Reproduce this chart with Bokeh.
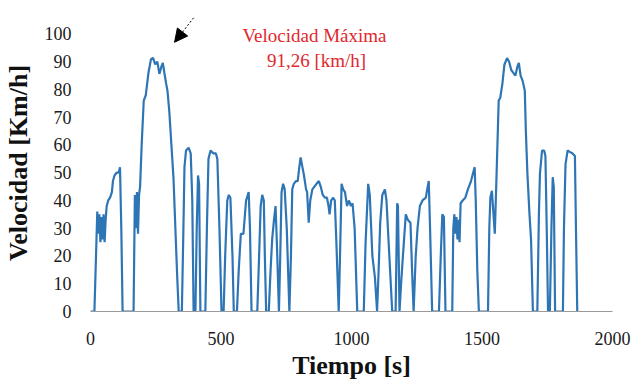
from bokeh.plotting import figure
from bokeh.models import Range1d, FixedTicker, Arrow, NormalHead, Label
from bokeh.embed import file_html
from bokeh.resources import INLINE

# Time [s]
tiempo = [0, 15, 26, 30, 34, 38, 42, 46, 50, 54, 58, 62, 68, 75, 82, 86, 92, 100, 108, 113, 118, 123,
          165, 170, 174, 178, 182, 186, 190, 196, 204, 212, 222, 232, 240, 248, 256, 264, 271, 277, 283,
          290, 295, 302, 310, 318, 326, 332, 338, 350, 356, 360, 366, 376, 384, 390, 395, 402, 407, 412,
          416, 421, 440, 446, 452, 460, 470, 480, 486, 494, 502, 510, 516, 524, 530, 536, 544, 549, 561,
          568, 576, 586, 596, 606, 611, 617, 639, 646, 652, 658, 664, 668, 673, 683, 690, 696, 703, 709,
          714, 722, 727, 732, 738, 744, 752, 762, 768, 773, 779, 787, 794, 800, 805, 812, 818, 826, 830,
          836, 842, 850, 858, 866, 875, 882, 890, 898, 906, 912, 916, 922, 930, 936, 942, 951, 956, 962,
          968, 975, 983, 990, 998, 1004, 1012, 1022, 1047, 1054, 1064, 1070, 1080, 1090, 1098, 1104, 1110,
          1118, 1128, 1134, 1145, 1156, 1169, 1175, 1178, 1184, 1190, 1197, 1208, 1216, 1226, 1232, 1238,
          1246, 1253, 1262, 1272, 1285, 1290, 1296, 1301, 1309, 1335, 1342, 1348, 1354, 1360, 1386, 1390,
          1394, 1398, 1402, 1406, 1410, 1414, 1418, 1426, 1436, 1446, 1458, 1466, 1472, 1476, 1482, 1488,
          1523, 1528, 1532, 1538, 1544, 1549, 1556, 1564, 1570, 1578, 1586, 1596, 1604, 1612, 1620, 1628,
          1635, 1641, 1648, 1656, 1664, 1668, 1674, 1682, 1688, 1695, 1712, 1718, 1722, 1730, 1738, 1743,
          1748, 1753, 1760, 1766, 1771, 1775, 1780, 1810, 1814, 1820, 1828, 1836, 1846, 1856, 1860, 1865]

# Speed [km/h]
velocidad = [0, 0, 36, 28, 35, 25, 34, 26, 35, 25, 33, 38, 40, 41, 43, 47, 49, 50, 50, 52, 30, 0,
             0, 42, 30, 43, 28, 42, 45, 60, 76, 78, 86, 91, 91.3, 89, 90, 85.6, 88, 89.6, 86,
             82, 79.5, 72, 60, 48, 28, 13, 0, 0, 30, 52, 58, 59, 57, 40, 0, 0, 30, 49,
             46, 0, 0, 30, 55, 58, 57, 57, 55, 30, 0, 0, 20, 40, 42, 41, 20, 0, 0,
             15, 28, 28, 40, 43, 30, 0, 0, 20, 38, 42, 40, 20, 0, 0, 15, 26, 33, 38,
             25, 0, 20, 43, 46, 44, 30, 0, 20, 44, 46, 47, 47, 52, 55.5, 52, 49, 44, 43,
             32, 40, 44, 45, 46, 47, 45, 42, 41, 41, 38, 35, 40, 41, 40, 25, 0, 20, 46,
             44, 43, 38, 40, 38, 39, 30, 0, 0, 25, 46, 42, 20, 12, 0, 15, 32,
             42, 44, 40, 20, 0, 0, 39, 38, 0, 10, 20, 35, 33, 32, 15, 0,
             20, 30, 38, 40, 41, 44, 47, 30, 0, 0, 20, 35, 34, 0, 0, 30,
             35, 28, 34, 26, 33, 25, 39, 40, 41, 44, 47, 50, 52, 40, 15, 0,
             0, 30, 41, 43.5, 35, 28, 50, 76, 77, 82, 89, 91.3, 90, 87, 86, 85,
             88, 89.6, 85, 83, 79.5, 65, 49.6, 35, 25.7, 0, 0, 35, 49.6, 58, 58, 56,
             30, 0, 0, 30, 48.4, 45, 0, 0, 30, 53, 58, 57.5, 57, 56, 30, 0]

x_ticks = [0, 500, 1000, 1500, 2000]
y_ticks = [0, 10, 20, 30, 40, 50, 60, 70, 80, 90, 100]

annot_line1 = "Velocidad Máxima"
annot_line2 = "91,26 [km/h]"

SERIF = "Liberation Serif"

p = figure(width=632, height=383, output_backend="svg", toolbar_location=None,
           x_range=Range1d(0, 2000), y_range=Range1d(0, 107),
           min_border_left=90, min_border_right=20, min_border_top=14, min_border_bottom=72)

p.line(tiempo, velocidad, line_color="#2E75B6", line_width=2.2)

p.xgrid.grid_line_color = None
p.ygrid.grid_line_color = None
p.outline_line_color = None

p.xaxis.ticker = FixedTicker(ticks=x_ticks)
p.yaxis.ticker = FixedTicker(ticks=y_ticks)
for ax in (p.xaxis, p.yaxis):
    ax.major_tick_line_color = None
    ax.minor_tick_line_color = None
    ax.major_label_text_font = SERIF
    ax.major_label_text_font_size = "18px"
    ax.major_label_text_color = "#1a1a1a"
    ax.axis_label_text_font = SERIF
    ax.axis_label_text_font_style = "bold"
    ax.axis_label_text_font_size = "26px"
    ax.axis_label_text_color = "#111111"

p.yaxis.axis_line_color = None
p.xaxis.axis_line_color = "#9a9a9a"
p.xaxis.axis_line_width = 1

p.xaxis.axis_label = "Tiempo [s]"
p.yaxis.axis_label = "Velocidad [Km/h]"
p.xaxis.major_label_standoff = 14
p.xaxis.axis_label_standoff = 3
p.yaxis.major_label_standoff = 13
p.yaxis.axis_label_standoff = 9

p.add_layout(Label(x=858, y=99.4, text=annot_line1, text_align="center", text_baseline="middle",
                   text_font=SERIF, text_font_size="19px", text_color="#e0282e"))
p.add_layout(Label(x=866, y=90.4, text=annot_line2, text_align="center", text_baseline="middle",
                   text_font=SERIF, text_font_size="19px", text_color="#e0282e"))

p.add_layout(Arrow(x_start=395, y_start=105.8, x_end=322, y_end=97,
                   line_color="black", line_width=1, line_dash="2 2",
                   end=NormalHead(size=13, fill_color="black", line_color="black")))

open("out.html", "w").write(file_html(p, INLINE))
